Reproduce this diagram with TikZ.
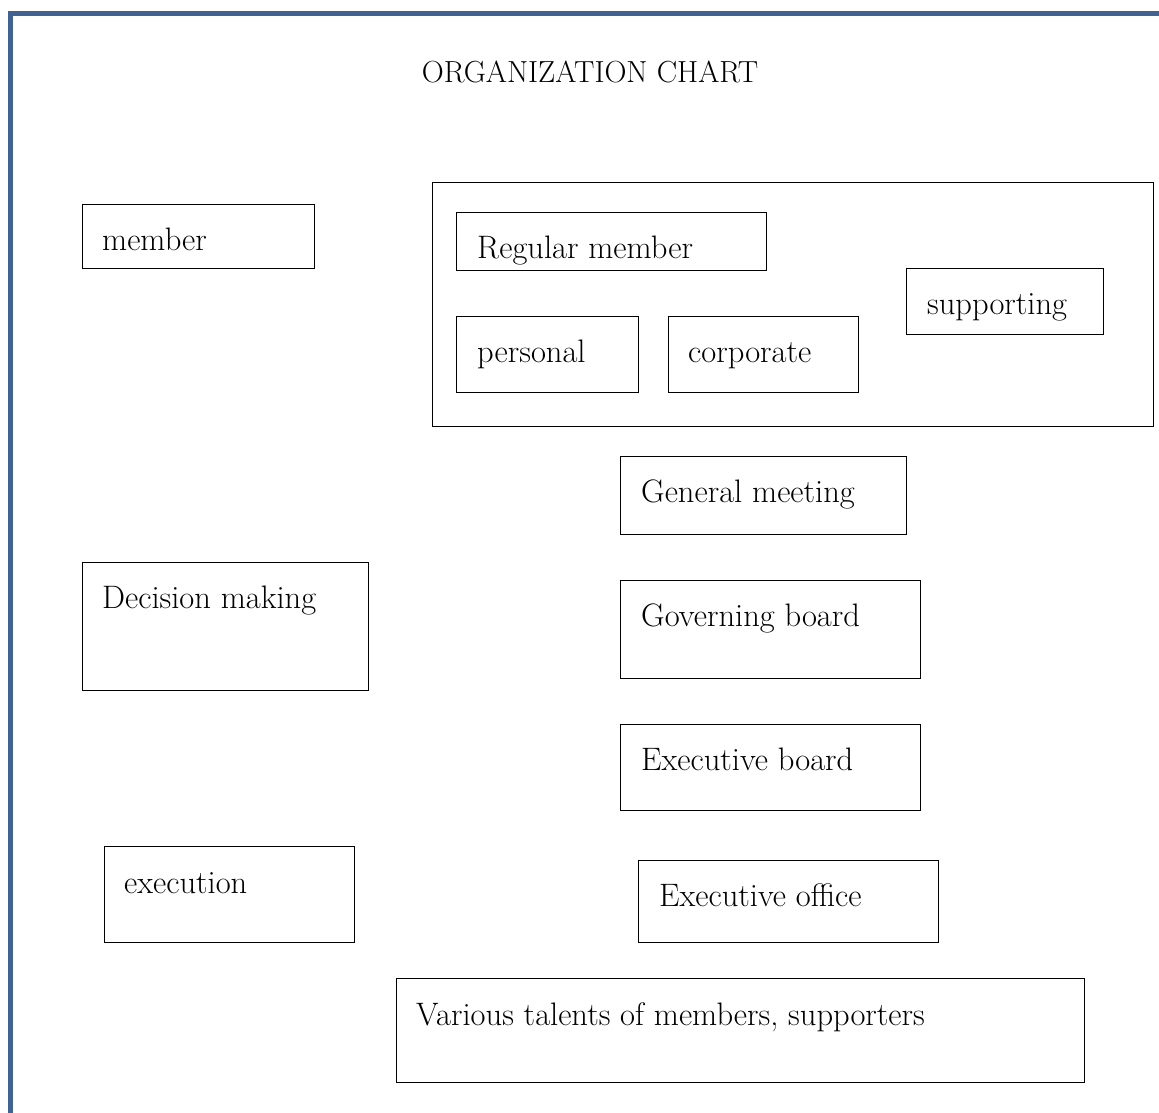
\documentclass[tikz,border=0pt]{standalone}
\begin{document}
\begin{tikzpicture}[x=1pt,y=-1pt,
  box/.style={draw=black,line width=0.9pt,anchor=north west,inner sep=0pt,outer sep=0pt},
  txt/.style={anchor=mid west,inner sep=0pt,font=\fontsize{32.5}{38}\selectfont},
  frame/.style={draw={rgb,255:red,65;green,99;blue,145},line width=5pt}]
\useasboundingbox (0,0) rectangle (1159,1113);
\coordinate (fa) at (10,1113);
\coordinate (fb) at (10,14);
\coordinate (fc) at (1159,14);
\draw[frame] (fa) -- (fb) -- (fc);
\node[anchor=center,inner sep=0pt,font=\fontsize{30.5}{36}\selectfont] (title) at (590,72) {ORGANIZATION CHART};
% boxes
\node[box,minimum width=232,minimum height=64] (member) at (82,204) {};
\node[txt] (tmember) at (102,248) {member};
\node[box,minimum width=721,minimum height=244] (outer) at (432,182) {};
\node[box,minimum width=310,minimum height=58] (regular) at (456,212) {};
\node[txt] (tregular) at (477,256) {Regular member};
\node[box,minimum width=182,minimum height=76] (personal) at (456,316) {};
\node[txt] (tpersonal) at (477,360) {personal};
\node[box,minimum width=190,minimum height=76] (corporate) at (668,316) {};
\node[txt] (tcorporate) at (688,360) {corporate};
\node[box,minimum width=197,minimum height=66] (supporting) at (906,268) {};
\node[txt] (tsupporting) at (927,312) {supporting};
\node[box,minimum width=286,minimum height=78] (general) at (620,456) {};
\node[txt] (tgeneral) at (641,500) {General meeting};
\node[box,minimum width=286,minimum height=128] (decision) at (82,562) {};
\node[txt] (tdecision) at (102,606) {Decision making};
\node[box,minimum width=300,minimum height=98] (governing) at (620,580) {};
\node[txt] (tgoverning) at (641,624) {Governing board};
\node[box,minimum width=300,minimum height=86] (execboard) at (620,724) {};
\node[txt] (texecboard) at (641,768) {Executive board};
\node[box,minimum width=250,minimum height=96] (execution) at (104,846) {};
\node[txt] (texecution) at (124,891) {execution};
\node[box,minimum width=300,minimum height=82] (office) at (638,860) {};
\node[txt] (toffice) at (659,904) {Executive office};
\node[box,minimum width=688,minimum height=104] (various) at (396,978) {};
\node[txt] (tvarious) at (416,1023) {Various talents of members, supporters};
\end{tikzpicture}
\end{document}
